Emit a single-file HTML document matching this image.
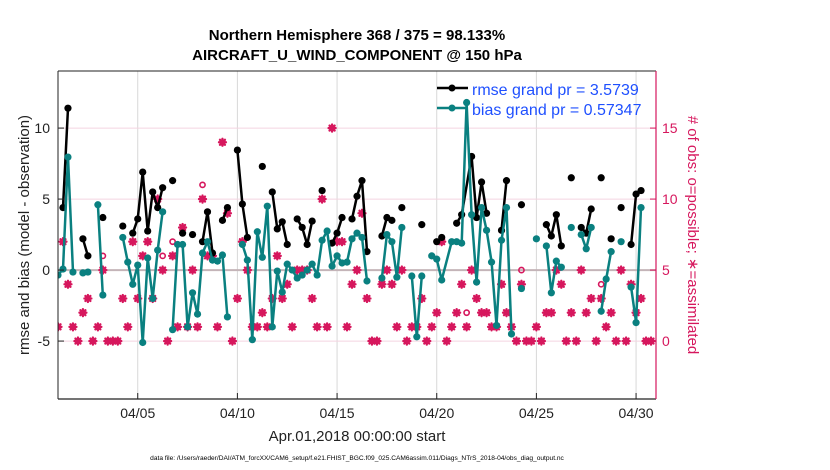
<!DOCTYPE html>
<html><head><meta charset="utf-8">
<style>
html,body{margin:0;padding:0;background:#fff;}
svg{display:block;font-family:"Liberation Sans",sans-serif;}
</style></head>
<body>
<svg id="chart" width="830" height="470" viewBox="0 0 830 470">
  <text x="357" y="40" text-anchor="middle" font-size="15" font-weight="bold">Northern Hemisphere 368 / 375 = 98.133%</text>
  <text x="357" y="60" text-anchor="middle" font-size="15" font-weight="bold">AIRCRAFT_U_WIND_COMPONENT @ 150 hPa</text>
  <g id="grid"></g>
  <g id="plot"></g>
  <g id="axes"></g>
  <text x="357" y="441" text-anchor="middle" font-size="15" fill="#222">Apr.01,2018 00:00:00 start</text>
  <text transform="translate(29,235) rotate(-90)" text-anchor="middle" font-size="15" fill="#222">rmse and bias (model - observation)</text>
  <text transform="translate(688,235) rotate(90)" text-anchor="middle" font-size="15" fill="#d6175d"># of obs: o=possible; ∗=assimilated</text>
  <text x="357" y="460" text-anchor="middle" font-size="6.6" fill="#000">data file: /Users/raeder/DAI/ATM_forcXX/CAM6_setup/f.e21.FHIST_BGC.f09_025.CAM6assim.011/Diags_NTrS_2018-04/obs_diag_output.nc</text>
  <g>
    <line x1="437" y1="88" x2="468" y2="88" stroke="#000" stroke-width="2.5"/>
    <circle cx="452" cy="88" r="3.5" fill="#000"/>
    <text x="472" y="95" font-size="16" fill="#1f50ff">rmse grand pr = 3.5739</text>
    <line x1="437" y1="108" x2="468" y2="108" stroke="#0a8080" stroke-width="2.5"/>
    <circle cx="452" cy="108" r="3.5" fill="#0a8080"/>
    <text x="472" y="115" font-size="16" fill="#1f50ff">bias grand pr = 0.57347</text>
  </g>
</svg>
<script>
// 6-hourly bin indices (bin b is centered at day (b+1)/4)
const rmseBins = [0,1,null,4,5,null,8,null,12,null,14,15,16,17,18,19,20,null,22,null,24,null,26,null,28,29,30,null,32,33,null,35,36,37,null,40,null,42,43,44,45,null,47,48,49,50,null,52,null,54,55,56,null,58,59,60,61,null,64,65,66,null,68,null,72,null,75,76,null,79,80,82,83,84,85,null,88,89,null,92,null,97,98,99,100,null,102,null,104,105,106,null,108,null,110,null,112,null,114,115,116];
const rmseVals = [4.4,11.4,null,2.2,1.0,null,3.7,null,3.1,null,2.6,3.6,6.9,2.75,5.5,4.4,5.8,null,6.3,null,2.6,null,2.5,null,2.0,4.1,1.2,null,3.5,4.4,null,8.45,4.65,2.3,null,7.3,null,5.5,2.9,3.4,1.8,null,3.6,3.0,1.8,3.45,null,5.6,null,1.9,2.6,3.7,null,3.6,5.2,6.3,1.3,null,2.4,3.7,3.5,null,4.4,null,3.2,null,2.0,2.3,null,3.3,3.9,8.0,3.7,6.2,4.0,null,2.8,6.3,null,4.6,null,3.2,2.4,3.9,1.7,null,6.5,null,3.0,2.6,4.3,null,6.5,null,2.2,null,4.4,null,1.8,5.35,5.6];
const biasBins = [-1,0,1,2,null,4,5,null,7,8,null,12,13,14,15,16,17,18,19,20,null,22,23,24,25,26,27,28,29,30,31,32,33,null,36,37,38,39,40,41,42,43,44,45,46,47,48,49,50,51,52,53,54,55,56,57,58,59,60,61,null,64,65,66,67,68,null,70,71,72,null,74,75,76,78,79,80,81,82,83,84,85,86,87,88,89,90,null,92,null,95,null,97,98,99,100,null,102,null,104,105,106,null,108,109,110,null,112,null,114,115,116];
const biasVals = [-0.35,0.07,7.96,-0.14,null,-0.2,-0.14,null,4.6,-1.76,null,2.3,0.56,-1.0,0.35,-5.1,0.85,-2.0,1.4,4.1,null,-4.2,1.8,1.8,-4.0,-1.6,-3.1,1.2,2.0,0.7,0.63,1.06,-3.3,null,1.8,0.7,-4.9,2.7,0.9,4.5,-4.0,-0.07,-1.55,0.42,0,-0.56,-0.35,0,0.42,-0.35,2.1,2.75,0.28,1.0,0.5,0.56,2.2,2.6,2.3,-0.77,null,-0.56,2.5,2.0,-0.5,3.0,null,-0.42,-4.7,-0.42,null,1.0,0.77,-0.7,2.0,2.0,1.9,11.8,3.9,-0.85,4.4,2.8,0.56,-3.9,2.1,4.4,-4.5,null,-1.3,null,2.2,null,1.7,-1.6,0.63,0.2,null,3.0,null,2.5,1.5,3.0,null,-2.9,-0.63,1.3,null,2.0,null,-1.2,-3.7,4.4];
const obsBins = [-1,0,1,2,3,4,5,6,7,8,9,10,11,12,13,14,15,16,17,18,19,20,21,22,23,24,25,26,27,28,29,30,31,32,33,34,35,36,37,38,39,40,41,42,43,44,45,46,47,48,49,50,51,52,53,54,55,56,57,58,59,60,61,62,63,64,65,66,67,68,69,70,71,72,73,74,75,76,77,78,79,80,81,82,83,84,85,86,87,88,89,90,91,92,93,94,95,96,97,98,99,100,101,102,103,104,105,106,107,108,109,110,111,112,113,114,115,116,117,118];
const obsAssim = [1,7,4,1,0,2,3,0,1,5,0,0,0,3,1,7,3,6,7,3,10,5,0,6,1,8,1,5,1,10,6,6,1,14,9,0,3,7,5,1,1,2,1,3,6,3,4,1,5,5,5,3,1,10,1,15,7,7,1,4,5,9,3,0,0,4,5,4,1,5,0,1,1,3,0,1,2,7,0,1,2,4,1,5,3,2,2,1,1,4,2,1,0,4,0,0,1,0,2,2,5,4,0,2,0,5,2,3,0,3,1,2,0,5,0,4,2,3,0,0];
const possibleBins = [8,20,22,28,81,92,108];
const possibleCounts = [6,6,7,11,2,5,4];
const xTickDays = [4,9,14,19,24,29];
const xTickLabels = ["04/05","04/10","04/15","04/20","04/25","04/30"];
const leftTicks = [-5,0,5,10];
const rightTicks = [0,5,10,15];

const NS = "http://www.w3.org/2000/svg";
const L = 58, R = 656, T = 71, B = 399;
const dayMin = 0, dayMax = 30;
const yMin = -9.08, yMax = 14.02;
function xDay(d){ return L + (d - dayMin) / (dayMax - dayMin) * (R - L); }
function xBin(b){ return xDay((b + 1) / 4); }
function yL(v){ return B - (v - yMin) / (yMax - yMin) * (B - T); }
function yR(c){ return yL(c - 5); }
function mk(tag, attrs, parent){ const e = document.createElementNS(NS, tag); for (const k in attrs) e.setAttribute(k, attrs[k]); parent.appendChild(e); return e; }

const grid = document.getElementById('grid');
const plot = document.getElementById('plot');
const axes = document.getElementById('axes');
mk('clipPath', {id:'clip'}, document.getElementById('chart'));
mk('rect', {x:L, y:T, width:R-L+4, height:B-T}, document.getElementById('clip'));
plot.setAttribute('clip-path', 'url(#clip)');

xTickDays.forEach((d, i) => {
  const x = xDay(d);
  const g = mk('line', {x1:x, y1:T, x2:x, y2:B, stroke:'#d8d8d8', 'stroke-width':1}, grid);
  
  
  const tk = mk('line', {x1:x, y1:B, x2:x, y2:B-6, stroke:'#222', 'stroke-width':1}, axes);
  
  
  const t = mk('text', {x:x, y:B+19, 'text-anchor':'middle', 'font-size':14, fill:'#222'}, axes);
  t.textContent = xTickLabels[i];
  
  
});
rightTicks.forEach(c => {
  const y = yR(c);
  const g = mk('line', {x1:L, y1:y, x2:R, y2:y, stroke:'#f4d4e0', 'stroke-width':1}, grid);
  
  
  const tk = mk('line', {x1:R, y1:y, x2:R-6, y2:y, stroke:'#d6175d', 'stroke-width':1}, axes);
  
  
  const t = mk('text', {x:R+6, y:y+5, 'font-size':14, fill:'#d6175d'}, axes);
  t.textContent = c;
  
  
});
const zl = mk('line', {x1:L, y1:yL(0), x2:R, y2:yL(0), stroke:'#c4b4b8', 'stroke-width':2}, grid);


leftTicks.forEach(v => {
  const y = yL(v);
  const tk = mk('line', {x1:L, y1:y, x2:L+6, y2:y, stroke:'#222', 'stroke-width':1}, axes);
  
  
  const t = mk('text', {x:L-8, y:y+5, 'text-anchor':'end', 'font-size':14, fill:'#222'}, axes);
  t.textContent = v;
  
  
});
let ax = mk('line', {x1:L, y1:T, x2:L, y2:B, stroke:'#222', 'stroke-width':1}, axes);


ax = mk('line', {x1:L, y1:T, x2:R, y2:T, stroke:'#222', 'stroke-width':1}, axes);


ax = mk('line', {x1:L, y1:B, x2:R, y2:B, stroke:'#222', 'stroke-width':1.2}, axes);


ax = mk('line', {x1:R, y1:T, x2:R, y2:B, stroke:'#d6175d', 'stroke-width':1.2}, axes);



function star(x, y){
  return `M${x-3.5},${y}L${x+3.5},${y}M${x},${y-3.5}L${x},${y+3.5}M${x-2.5},${y-2.5}L${x+2.5},${y+2.5}M${x-2.5},${y+2.5}L${x+2.5},${y-2.5}`;
}
obsBins.forEach((b, i) => {
  const p = mk('path', {d:star(xBin(b), yR(obsAssim[i])), stroke:'#d6175d', 'stroke-width':2.3, 'stroke-linecap':'round', fill:'none'}, plot);
  
  
});
possibleBins.forEach((b, i) => {
  const c = mk('circle', {cx:xBin(b), cy:yR(possibleCounts[i]), r:2.6, fill:'none', stroke:'#d6175d', 'stroke-width':1.6}, plot);
  
  
});

function series(bins, vals, color, name){
  let d = '', pen = false;
  bins.forEach((b, i) => {
    const v = vals[i];
    if (b === null || v === null) { pen = false; return; }
    d += (pen ? 'L' : 'M') + xBin(b).toFixed(1) + ',' + yL(v).toFixed(1);
    pen = true;
  });
  const p = mk('path', {d:d, stroke:color, 'stroke-width':2.5, fill:'none', 'stroke-linejoin':'round'}, plot);
  
  
  bins.forEach((b, i) => {
    const v = vals[i];
    if (b === null || v === null) return;
    const c = mk('circle', {cx:xBin(b), cy:yL(v), r:3.6, fill:color}, plot);
    
    
  });
}
series(rmseBins, rmseVals, '#000', 'rmse');
series(biasBins, biasVals, '#0a8080', 'bias');
</script>
</body></html>
